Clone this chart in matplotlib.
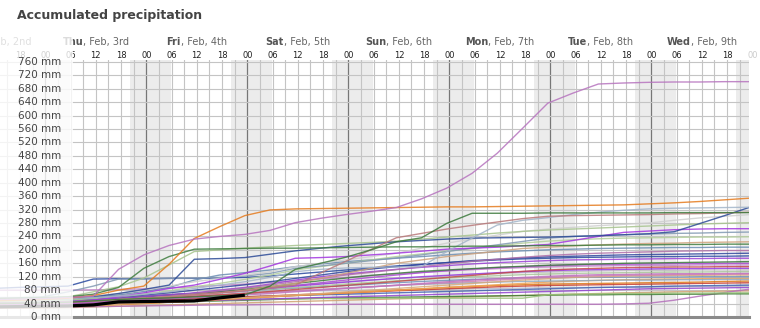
import matplotlib
matplotlib.use("Agg")
import matplotlib.pyplot as plt
import matplotlib.transforms as mtransforms
from matplotlib.patches import Rectangle

# time of each data point, hours after Thu Feb 3 00:00
hours = [-12.6, -6.6, -0.6, 5.4, 11.4, 17.4, 23.4, 29.4, 35.4, 41.4,
         47.4, 53.4, 59.4, 65.4, 71.4, 77.4, 83.4, 89.4, 95.4, 101.4,
         107.4, 113.4, 119.4, 125.4, 131.4, 137.4, 143.4, 149.4, 155.4, 161.4,
         167.4]

# ensemble members, accumulated mm
orchid_big = [52, 53, 55, 58, 62, 142, 185, 213, 232, 240, 246, 258, 281, 294, 305, 315, 326, 352, 384, 428, 488, 562, 637, 667, 694, 697, 699, 700, 700, 701, 701]
orange_big = [48, 50, 52, 56, 64, 80, 92, 157, 234, 269, 302, 319, 322, 323, 324, 325, 326, 327, 328, 328, 329, 330, 331, 332, 333, 334, 337, 340, 344, 349, 354]
dkgreen_a = [55, 56, 58, 60, 68, 88, 145, 180, 202, 203, 204, 205, 205, 206, 207, 208, 209, 209, 210, 211, 211, 212, 213, 213, 214, 215, 215, 216, 216, 217, 217]
dkgreen_b = [40, 41, 42, 44, 48, 52, 55, 57, 60, 63, 66, 92, 142, 160, 178, 200, 224, 236, 279, 309, 309, 309, 310, 310, 310, 310, 310, 311, 311, 311, 311]
rose = [40, 41, 42, 44, 48, 52, 56, 60, 66, 72, 78, 86, 95, 131, 166, 201, 236, 249, 262, 273, 283, 293, 300, 302, 303, 304, 305, 307, 308, 310, 312]
lightsteel = [48, 50, 52, 55, 58, 62, 68, 75, 85, 95, 105, 118, 135, 142, 146, 148, 149, 150, 195, 235, 274, 288, 296, 305, 312, 318, 322, 324, 325, 326, 327]
navy_a = [50, 52, 55, 58, 60, 70, 82, 95, 172, 174, 177, 187, 197, 205, 212, 218, 224, 228, 232, 235, 236, 237, 238, 240, 242, 245, 248, 254, 278, 302, 327]
purple_a = [40, 41, 43, 45, 50, 60, 72, 85, 95, 112, 130, 152, 175, 177, 180, 185, 190, 196, 202, 205, 208, 212, 216, 228, 240, 252, 256, 260, 262, 263, 263]
sage_a = [50, 52, 55, 60, 75, 90, 116, 155, 195, 200, 205, 209, 213, 216, 219, 222, 226, 232, 238, 244, 250, 255, 259, 262, 265, 268, 271, 274, 277, 279, 281]
grey_a = [50, 51, 53, 56, 62, 70, 80, 92, 105, 115, 125, 135, 150, 160, 170, 180, 190, 205, 220, 232, 244, 255, 262, 267, 272, 276, 280, 288, 295, 300, 305]
greyblue = [55, 57, 60, 75, 92, 113, 114, 115, 116, 118, 122, 130, 145, 152, 160, 168, 176, 185, 195, 205, 215, 225, 235, 240, 243, 245, 247, 249, 250, 252, 253]
lightgreen = [45, 46, 48, 50, 55, 60, 68, 78, 90, 100, 112, 125, 140, 150, 160, 170, 180, 188, 196, 204, 212, 220, 226, 230, 233, 235, 236, 237, 238, 238, 239]
tan_a = [40, 41, 43, 45, 48, 52, 56, 60, 66, 72, 80, 90, 100, 115, 130, 145, 160, 170, 180, 188, 196, 204, 208, 212, 215, 217, 219, 220, 222, 223, 224]
dkgreen_c = [42, 43, 45, 48, 52, 56, 60, 65, 70, 76, 82, 90, 100, 108, 116, 124, 130, 136, 140, 144, 148, 151, 154, 156, 158, 160, 161, 162, 163, 164, 165]
steel_a = [45, 46, 48, 52, 58, 66, 76, 88, 110, 125, 132, 140, 150, 158, 165, 170, 175, 180, 185, 190, 194, 197, 200, 202, 204, 205, 206, 207, 207, 208, 208]
mauve = [38, 39, 40, 42, 45, 50, 55, 62, 70, 78, 86, 95, 105, 115, 125, 133, 141, 150, 158, 166, 172, 178, 183, 187, 190, 192, 194, 196, 197, 198, 198]
navy_b = [44, 45, 47, 50, 55, 60, 66, 72, 80, 88, 96, 105, 115, 125, 135, 143, 150, 156, 162, 168, 172, 176, 179, 181, 183, 185, 186, 187, 188, 189, 190]
navy_c = [85, 88, 90, 92, 113, 114, 114, 115, 115, 116, 118, 122, 128, 134, 140, 146, 152, 157, 162, 166, 170, 173, 175, 177, 178, 179, 180, 180, 181, 181, 182]
purple_b = [42, 43, 45, 48, 52, 56, 60, 66, 72, 80, 88, 98, 110, 120, 128, 135, 142, 148, 153, 158, 162, 165, 168, 170, 171, 172, 173, 174, 174, 175, 175]
purple_c = [36, 37, 38, 40, 44, 48, 54, 60, 66, 72, 78, 86, 94, 102, 110, 118, 125, 132, 138, 143, 147, 150, 153, 155, 156, 157, 158, 159, 159, 160, 160]
orchid_b = [80, 80, 80, 80, 81, 82, 84, 86, 90, 94, 98, 103, 108, 113, 118, 123, 128, 133, 137, 141, 144, 147, 149, 151, 152, 153, 154, 154, 155, 155, 155]
red_a = [40, 41, 42, 44, 47, 50, 54, 58, 62, 66, 70, 76, 82, 88, 94, 100, 106, 112, 118, 124, 130, 136, 140, 143, 145, 147, 148, 149, 149, 150, 150]
purple_d = [48, 49, 50, 52, 55, 58, 62, 66, 70, 75, 80, 86, 92, 98, 104, 110, 115, 120, 124, 128, 132, 135, 138, 140, 141, 142, 143, 144, 144, 145, 145]
grey_b = [52, 53, 55, 58, 62, 66, 70, 74, 78, 82, 86, 90, 95, 100, 105, 110, 114, 118, 122, 126, 129, 132, 134, 136, 137, 138, 139, 139, 140, 140, 140]
sage_b = [46, 47, 48, 50, 54, 58, 62, 66, 70, 74, 78, 83, 88, 93, 98, 103, 108, 112, 116, 120, 123, 126, 128, 130, 131, 132, 133, 134, 134, 135, 135]
orchid_c = [34, 35, 36, 38, 42, 46, 50, 54, 58, 62, 66, 70, 75, 80, 85, 90, 95, 100, 105, 110, 114, 118, 121, 124, 126, 127, 128, 129, 129, 130, 130]
tan_b = [30, 30, 31, 32, 35, 38, 42, 46, 50, 54, 58, 62, 66, 70, 75, 80, 85, 90, 95, 100, 105, 110, 114, 118, 120, 122, 123, 124, 124, 125, 125]
steel_b = [50, 51, 52, 54, 57, 60, 63, 66, 70, 74, 78, 82, 86, 90, 94, 98, 102, 106, 109, 112, 114, 116, 117, 118, 118, 119, 119, 119, 120, 120, 120]
orange_b = [32, 32, 33, 34, 36, 38, 41, 44, 48, 52, 56, 60, 64, 68, 72, 76, 80, 84, 88, 92, 96, 100, 104, 107, 109, 111, 112, 113, 114, 115, 115]
orange_c = [30, 30, 31, 32, 34, 37, 40, 44, 48, 52, 56, 60, 64, 68, 72, 76, 80, 84, 88, 91, 94, 96, 98, 99, 100, 101, 102, 103, 104, 106, 107]
red_b = [38, 38, 39, 40, 42, 45, 48, 51, 54, 57, 60, 63, 66, 69, 72, 75, 78, 81, 84, 87, 90, 92, 94, 95, 96, 97, 98, 99, 100, 101, 102]
blue_a = [44, 44, 45, 46, 48, 50, 52, 54, 56, 58, 60, 62, 64, 66, 68, 70, 72, 74, 76, 78, 80, 82, 84, 86, 88, 89, 90, 92, 93, 94, 95]
grey_c = [58, 58, 59, 60, 62, 64, 66, 68, 70, 72, 74, 76, 77, 78, 79, 80, 81, 82, 83, 84, 85, 86, 87, 88, 88, 89, 90, 90, 91, 91, 92]
purple_e = [36, 36, 37, 38, 40, 42, 44, 46, 48, 50, 52, 54, 56, 58, 60, 62, 64, 66, 68, 70, 72, 74, 76, 78, 80, 82, 84, 85, 86, 87, 88]
orchid_low = [28, 28, 29, 30, 31, 32, 33, 34, 35, 36, 36, 37, 37, 37, 38, 38, 38, 38, 38, 38, 38, 38, 38, 38, 38, 39, 41, 50, 62, 73, 83]
dkgreen_low = [34, 34, 35, 36, 38, 40, 42, 44, 46, 48, 50, 52, 54, 56, 57, 58, 59, 60, 61, 62, 63, 64, 65, 66, 66, 67, 67, 68, 68, 69, 69]
lightgreen_low = [34, 35, 36, 38, 40, 42, 44, 46, 48, 50, 52, 53, 54, 55, 55, 56, 56, 56, 56, 56, 56, 56, 66, 68, 69, 70, 70, 71, 71, 72, 72]
tan_low = [26, 26, 27, 28, 30, 32, 34, 36, 38, 40, 42, 44, 46, 48, 50, 52, 54, 56, 58, 60, 62, 64, 66, 68, 70, 72, 73, 75, 76, 77, 78]
steel_c = [42, 43, 44, 46, 49, 52, 55, 58, 62, 66, 70, 74, 78, 82, 86, 90, 94, 97, 100, 102, 104, 106, 107, 108, 109, 110, 110, 111, 111, 112, 112]
pink = [40, 41, 42, 44, 46, 50, 54, 58, 62, 66, 70, 74, 78, 82, 86, 90, 94, 98, 102, 106, 110, 114, 118, 121, 123, 124, 125, 126, 127, 127, 128]

# thick black line, first 11 time steps
observed = [30, 31, 32, 33, 36, 45, 46, 47, 48, 57, 65]

members = [
    (tan_low, "#d1a172"), (orchid_low, "#b46fbb"), (dkgreen_low, "#3b7b31"),
    (lightgreen_low, "#99c279"), (purple_e, "#9142cf"), (grey_c, "#b9b9c9"),
    (blue_a, "#4262b1"), (red_b, "#c83c32"), (orange_c, "#df7718"),
    (orange_b, "#eea253"), (steel_c, "#91a9c1"), (steel_b, "#7191b9"),
    (tan_b, "#d8aa7c"), (pink, "#d181b1"), (orchid_c, "#c072c0"),
    (sage_b, "#aac39a"), (grey_b, "#bdbdbd"), (purple_d, "#9638e0"),
    (red_a, "#c24a4a"), (orchid_b, "#c384c9"), (purple_c, "#aa4cd2"),
    (dkgreen_c, "#3c7a3c"), (purple_b, "#9a42d6"), (navy_c, "#2a4aa0"),
    (navy_b, "#30469d"), (mauve, "#b06fa9"), (steel_a, "#6b8db2"),
    (tan_a, "#cfa27c"), (lightgreen, "#b3cf9b"), (greyblue, "#8299b3"),
    (grey_a, "#cfcfcf"), (sage_a, "#a7c48e"), (purple_a, "#a336e0"),
    (navy_a, "#2d4b97"), (lightsteel, "#a3b5c9"), (rose, "#b9797a"),
    (dkgreen_b, "#3c7a3c"), (dkgreen_a, "#3f7d3f"), (orange_big, "#e57b1e"),
    (orchid_big, "#b774bf"),
]

day_names = ["Wed", "Thu", "Fri", "Sat", "Sun", "Mon", "Tue", "Wed"]
day_dates = [", Feb, 2nd", ", Feb, 3rd", ", Feb, 4th", ", Feb, 5th",
             ", Feb, 6th", ", Feb, 7th", ", Feb, 8th", ", Feb, 9th"]
hour_labels = ["00", "06", "12", "18"]

W, H = 760, 328
fig = plt.figure(figsize=(W / 100, H / 100), dpi=100)
ax = fig.add_axes([0, 11 / H, 749 / W, (317 - 59.5) / H])
ax.set_xlim(-10.77, 167.2)
ax.set_ylim(0, 767)
ax.set_axis_off()

# night bands
for d in range(-1, 8):
    ax.axvspan(24 * d - 3.9, 24 * d + 5.9, color="#ececec", lw=0, zorder=0)

# grid
for h in range(-9, 168, 3):
    if h % 24 == 0:
        ax.axvline(h, color="#777777", lw=0.9, zorder=1)
    else:
        ax.axvline(h, color="#c4c4c4", lw=0.8, zorder=1)
for v in range(40, 761, 40):
    ax.axhline(v, color="#c4c4c4", lw=0.8, zorder=1)
ax.axhline(0, color="#8a8a8a", lw=2.2, zorder=6, clip_on=False)

for vals, col in members:
    ax.plot(hours, vals, color=col, lw=1.0, alpha=0.85, zorder=3)
ax.plot(hours[:len(observed)], observed, color="black", lw=2.3, zorder=5,
        solid_capstyle="butt")

# labels above the plot
tr = mtransforms.blended_transform_factory(ax.transData, fig.transFigure)
for d in range(-1, 8):
    for i, lab in enumerate(hour_labels):
        h = 24 * d + 6 * i
        if h < -11 or h > 168:
            continue
        col = "#cccccc" if h >= 168 else "#222222"
        fig.text(h, (H - 55) / H, lab, transform=tr, ha="center", va="center",
                 fontsize=6, color=col, zorder=2)

fig.canvas.draw()
rend = fig.canvas.get_renderer()
for i, (nm, dt) in enumerate(zip(day_names, day_dates)):
    cx = ax.transData.transform((24 * i - 12, 0))[0]
    t1 = fig.text(0, (H - 41.7) / H, nm, fontsize=7, fontweight="bold",
                  color="#555555", va="center", ha="left", zorder=2)
    t2 = fig.text(0, (H - 41.7) / H, dt, fontsize=7, color="#666666",
                  va="center", ha="left", zorder=2)
    w1 = t1.get_window_extent(rend).width
    w2 = t2.get_window_extent(rend).width
    x0 = cx - (w1 + w2) / 2
    t1.set_x(x0 / W)
    t2.set_x((x0 + w1) / W)

# faded region on the left
fig.patches.append(Rectangle((0, 0), 73 / W, (H - 30) / H,
                             transform=fig.transFigure, facecolor="white",
                             alpha=0.8, lw=0, zorder=5))

# y labels on top of the faded region
ty = mtransforms.blended_transform_factory(fig.transFigure, ax.transData)
for v in range(0, 761, 40):
    fig.text(61 / W, v, f"{v} mm", transform=ty, ha="right", va="center",
             fontsize=7.5, color="#444444", zorder=10)

fig.text(17 / W, (H - 15) / H, "Accumulated precipitation", fontsize=9,
         fontweight="bold", color="#444444", ha="left", va="center", zorder=10)

fig.savefig("out.png", dpi=100)
